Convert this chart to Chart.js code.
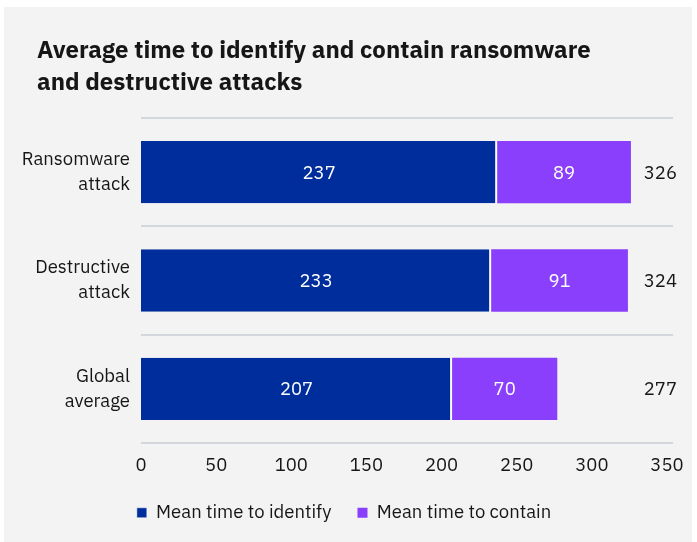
<!DOCTYPE html>
<html>
<head>
<meta charset="utf-8">
<script src="https://cdn.jsdelivr.net/npm/chart.js@4.4.0/dist/chart.umd.min.js"></script>
<style>
  html, body { margin: 0; padding: 0; background: #ffffff; }
  #panel { position: absolute; left: 4px; top: 7px; width: 688px; height: 535px; background: #f3f3f3; }
  #c { position: absolute; left: 0; top: 0; }
  #title { position: absolute; left: 37px; top: 34px; margin: 0; font: bold 24px/31.5px 'IBM Plex Sans', 'Noto Sans', sans-serif; color: #161616; white-space: nowrap; }
</style>
</head>
<body>
<div id="panel"></div>
<canvas id="c" width="697" height="542"></canvas>
<div id="title"></div>
<script>
const titleLines = ['Average time to identify and contain ransomware', 'and destructive attacks'];
const categories = [['Ransomware', 'attack'], ['Destructive', 'attack'], ['Global', 'average']];
const seriesNames = ['Mean time to identify', 'Mean time to contain'];
const identifyValues = [237, 233, 207];
const containValues = [89, 91, 70];
const xTickValues = [0, 50, 100, 150, 200, 250, 300, 350];

document.getElementById('title').innerHTML = titleLines.join('<br>');

const FONT = "'IBM Plex Sans', 'Noto Sans', sans-serif";
const TEXT = '#161616';
const FS = 18.5;

const labelPlugin = {
  id: 'barLabels',
  afterDatasetsDraw(chart) {
    const ctx = chart.ctx;
    ctx.save();
    ctx.font = FS + 'px ' + FONT;
    ctx.textBaseline = 'middle';
    chart.data.datasets.forEach((ds, i) => {
      const meta = chart.getDatasetMeta(i);
      meta.data.forEach((bar, j) => {
        const p = bar.getProps(['x', 'y', 'base'], true);
        ctx.fillStyle = '#ffffff';
        ctx.textAlign = 'center';
        ctx.fillText(String(ds.data[j]), (p.x + p.base) / 2, p.y + 1);
      });
    });
    const last = chart.getDatasetMeta(chart.data.datasets.length - 1);
    last.data.forEach((bar, j) => {
      const total = identifyValues[j] + containValues[j];
      ctx.fillStyle = TEXT;
      ctx.textAlign = 'right';
      ctx.fillText(String(total), chart.chartArea.right + 4, bar.y + 1);
    });
    ctx.restore();
  }
};

new Chart(document.getElementById('c'), {
  type: 'bar',
  data: {
    labels: categories,
    datasets: [
      {
        label: seriesNames[0],
        data: identifyValues,
        backgroundColor: '#002d9c',
        borderColor: '#ffffff',
        borderWidth: { top: 0, right: 2, bottom: 0, left: 0 },
        borderSkipped: false
      },
      {
        label: seriesNames[1],
        data: containValues,
        backgroundColor: '#8a3ffc',
        borderWidth: 0
      }
    ]
  },
  options: {
    indexAxis: 'y',
    responsive: false,
    animation: false,
    devicePixelRatio: 1,
    layout: { padding: { left: 15, right: 24, top: 118, bottom: 10 } },
    datasets: { bar: { barPercentage: 0.575, categoryPercentage: 1 } },
    scales: {
      x: {
        stacked: true,
        min: 0,
        max: 354,
        afterBuildTicks: (axis) => { axis.ticks = xTickValues.map(v => ({ value: v })); },
        afterFit: (scale) => { scale.height = 34.5; },
        grid: { display: false, drawTicks: false },
        border: { display: false },
        ticks: { color: TEXT, font: { family: FONT, size: FS }, padding: 12, maxRotation: 0 }
      },
      y: {
        stacked: true,
        afterFit: (scale) => { scale.width = 126; },
        grid: { offset: true, color: '#d3d7dc', lineWidth: 2, drawTicks: false },
        border: { display: false },
        ticks: { color: TEXT, font: { family: FONT, size: FS, lineHeight: 1.35 }, padding: 11 }
      }
    },
    plugins: {
      title: { display: false },
      legend: {
        position: 'bottom',
        labels: {
          boxWidth: 10,
          boxHeight: 10,
          color: TEXT,
          font: { family: FONT, size: FS },
          padding: 26
        }
      },
      tooltip: { enabled: false }
    }
  },
  plugins: [labelPlugin]
});
</script>
</body>
</html>
